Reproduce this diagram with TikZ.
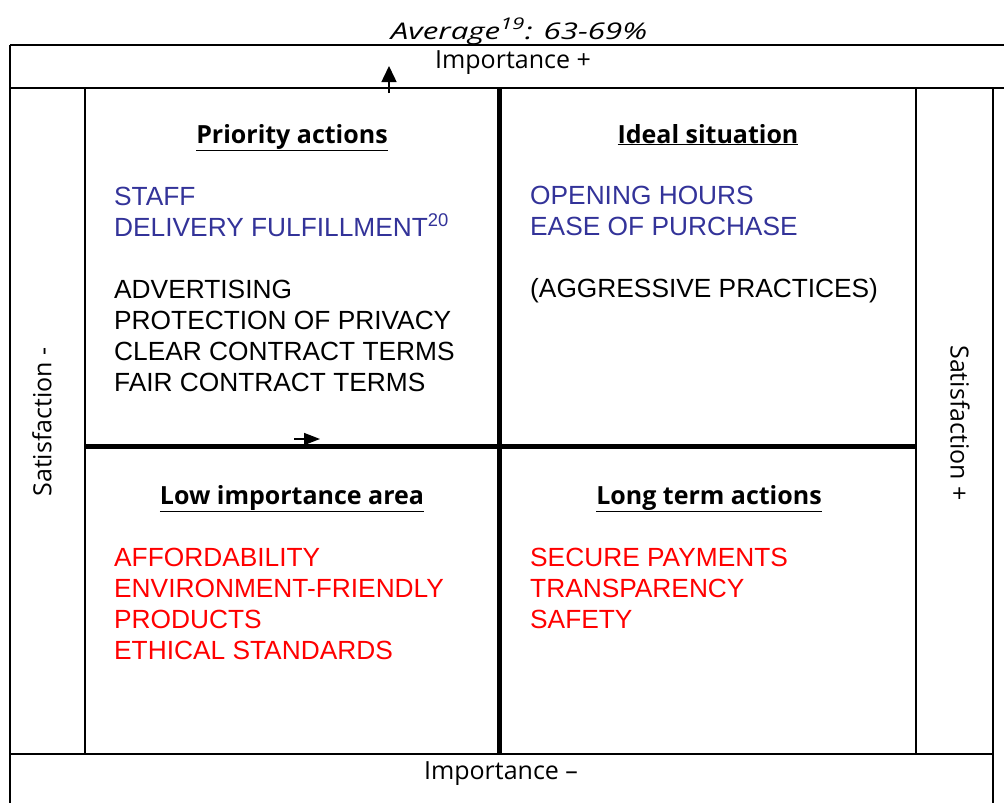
\documentclass[tikz,border=0pt]{standalone}
\usepackage{fontspec}
\setmainfont{Liberation Sans}
\newfontfamily\axisfont{Open Sans}
\newfontfamily\avgfont[FakeStretch=1.36]{Open Sans Italic}
\usetikzlibrary{arrows.meta}
\definecolor{itemblue}{HTML}{333399}
\definecolor{itemred}{HTML}{FF0000}

\begin{document}
\begin{tikzpicture}[x=1pt, y=-1pt,
    axislabel/.style={font=\axisfont\fontsize{25}{30}\selectfont, inner sep=0pt},
    heading/.style={font=\axisfont\bfseries\fontsize{25}{30}\selectfont,
      inner sep=0pt, anchor=base},
    items/.style={font=\fontsize{26.3}{31}\selectfont, align=left,
      anchor=base west, inner sep=0pt},
    frame/.style={line width=2.5pt},
    divider/.style={line width=5pt},
    marker/.style={line width=1.5pt, -{Triangle[length=16pt,width=15pt]}}
  ]
    \useasboundingbox (0,0) rectangle (1004,803);

    % outer frame and bands
    \draw[line width=2pt] (10,45) -- (1004,45);
    \draw[frame] (10,88) -- (1004,88);
    \draw[frame] (10,45) -- (10,803);
    \draw[frame] (993,88) -- (993,803);
    \draw[frame] (10,754) -- (993,754);
    \draw[line width=2pt] (85,88) -- (85,754);
    \draw[line width=2pt] (916,88) -- (916,754);

    % quadrant dividers
    \draw[divider] (499,88) -- (499,754);
    \draw[divider] (85,446) -- (916,446);

    % axis labels
    \node[axislabel, anchor=base, font=\avgfont\fontsize{23}{28}\selectfont]
      (average) at (519,39) {Average\textsuperscript{19}: 63-69\%};
    \node[axislabel, anchor=base] (imphigh) at (513,68) {Importance +};
    \node[axislabel, anchor=base] (implow) at (501,779) {Importance –};
    \node[axislabel, rotate=90] (satlow) at (42,422) {Satisfaction -};
    \node[axislabel, rotate=-90] (sathigh) at (960,423) {Satisfaction +};

    % direction markers
    \coordinate (upfrom) at (389,93);
    \coordinate (upto) at (389,66);
    \coordinate (rightfrom) at (294,439);
    \coordinate (rightto) at (320,439);
    \draw[marker] (upfrom) -- (upto);
    \draw[marker, -{Triangle[length=16pt,width=12pt]}] (rightfrom) -- (rightto);

    % quadrant headings
    \node[heading] (priority) at (292,143) {\underline{Priority actions}};
    \node[heading] (ideal) at (708,143) {\underline{Ideal situation}};
    \node[heading] (lowimp) at (292,504) {\underline{Low importance area}};
    \node[heading] (longterm) at (709,504) {\underline{Long term actions}};

    % quadrant contents (base = last line)
    \node[items] (prioritylist) at (114,391) {{\color{itemblue}STAFF}\\
      {\color{itemblue}DELIVERY FULFILLMENT\textsuperscript{20}}\\[31pt]
      ADVERTISING\\ PROTECTION OF PRIVACY\\ CLEAR CONTRACT TERMS\\
      FAIR CONTRACT TERMS};
    \node[items] (ideallist) at (530,297) {{\color{itemblue}OPENING HOURS}\\
      {\color{itemblue}EASE OF PURCHASE}\\[31pt]
      (AGGRESSIVE PRACTICES)};
    \node[items, text=itemred] (lowimplist) at (114,659) {AFFORDABILITY\\
      ENVIRONMENT-FRIENDLY\\ PRODUCTS\\ ETHICAL STANDARDS};
    \node[items, text=itemred] (longtermlist) at (530,628) {SECURE PAYMENTS\\
      TRANSPARENCY\\ SAFETY};
  \end{tikzpicture}
\end{document}
